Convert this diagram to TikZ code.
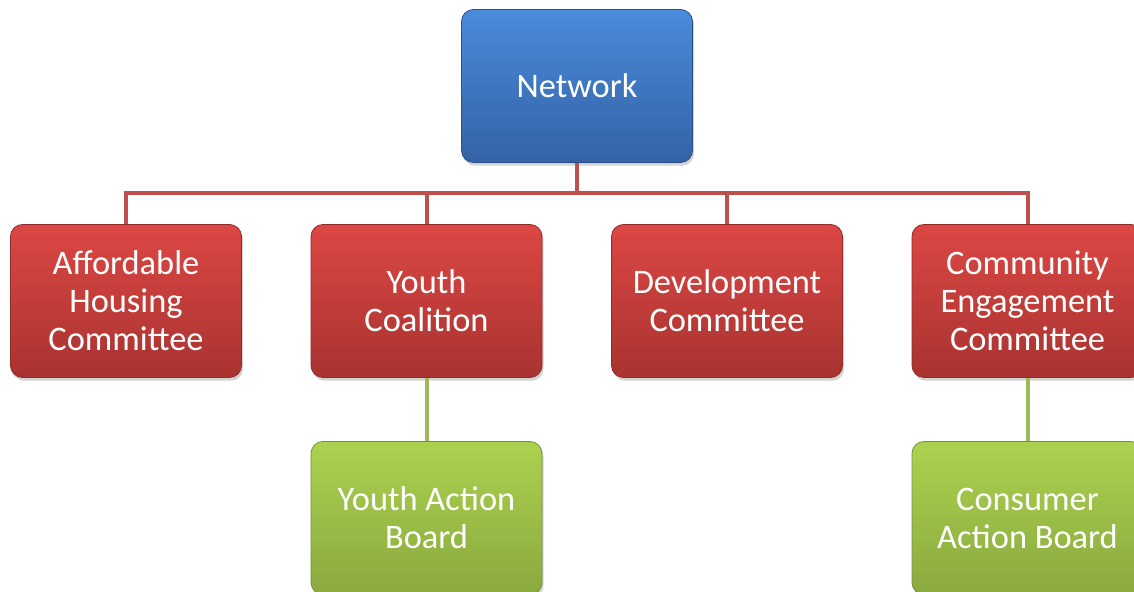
\documentclass[tikz,border=0pt]{standalone}
\usepackage{fontspec}
\setmainfont{Carlito}
\usepackage{tikz}
\usetikzlibrary{shadows}

\definecolor{nettop}{HTML}{4A8BDB}
\definecolor{netbot}{HTML}{3462A5}
\definecolor{comtop}{HTML}{DC4744}
\definecolor{combot}{HTML}{A83330}
\definecolor{boardtop}{HTML}{ABD24F}
\definecolor{boardbot}{HTML}{8AA93F}
\definecolor{redwire}{HTML}{C0504D}
\definecolor{greenwire}{HTML}{9BBB59}

\tikzset{
    orgbox/.style={
            rounded corners=6pt,
            minimum width=115.5pt,
            minimum height=76.5pt,
            align=center,
            text=white,
            font=\fontsize{17.2}{19}\selectfont,
            drop shadow={shadow xshift=0.8pt, shadow yshift=-1.6pt, opacity=0.35}
        },
    network/.style={
            orgbox,
            top color=nettop,
            bottom color=netbot,
            draw=netbot!80!black
        },
    committee/.style={
            orgbox,
            top color=comtop,
            bottom color=combot,
            draw=combot!85!black
        },
    board/.style={
            orgbox,
            top color=boardtop,
            bottom color=boardbot,
            draw=boardbot!85!black
        },
    redline/.style={
            redwire, line width=2pt
        },
    greenline/.style={
            greenwire, line width=2pt
        }
}

\begin{document}
\begin{tikzpicture}[x=0.5pt, y=-0.5pt]
        \useasboundingbox (0,0) rectangle (1134,592);
        \clip (0,0) rectangle (1134,592);

        \coordinate (bus) at (577,193);

        \node[network] (net) at (577,86) {Network};

        \node[committee] (housing) at (126,301) {Affordable\\Housing\\Committee};
        \node[committee] (youth) at (426.5,301) {Youth\\Coalition};
        \node[committee] (devel) at (727,301) {Development\\Committee};
        \node[committee] (engage) at (1027.5,301) {Community\\Engagement\\Committee};

        \node[board] (youthboard) at (426.5,518) {Youth Action\\Board};
        \node[board] (consumer) at (1027.5,518) {Consumer\\Action Board};

        % tree lines
        \begin{scope}[on background layer/.try]
            \draw[redline] (net.south) -- (bus);
            \foreach \c in {housing, youth, devel, engage}
                \draw[redline] (\c.north) |- (bus);
            \draw[greenline] (youth.south) -- (youthboard.north);
            \draw[greenline] (engage.south) -- (consumer.north);
        \end{scope}

    \end{tikzpicture}
\end{document}
